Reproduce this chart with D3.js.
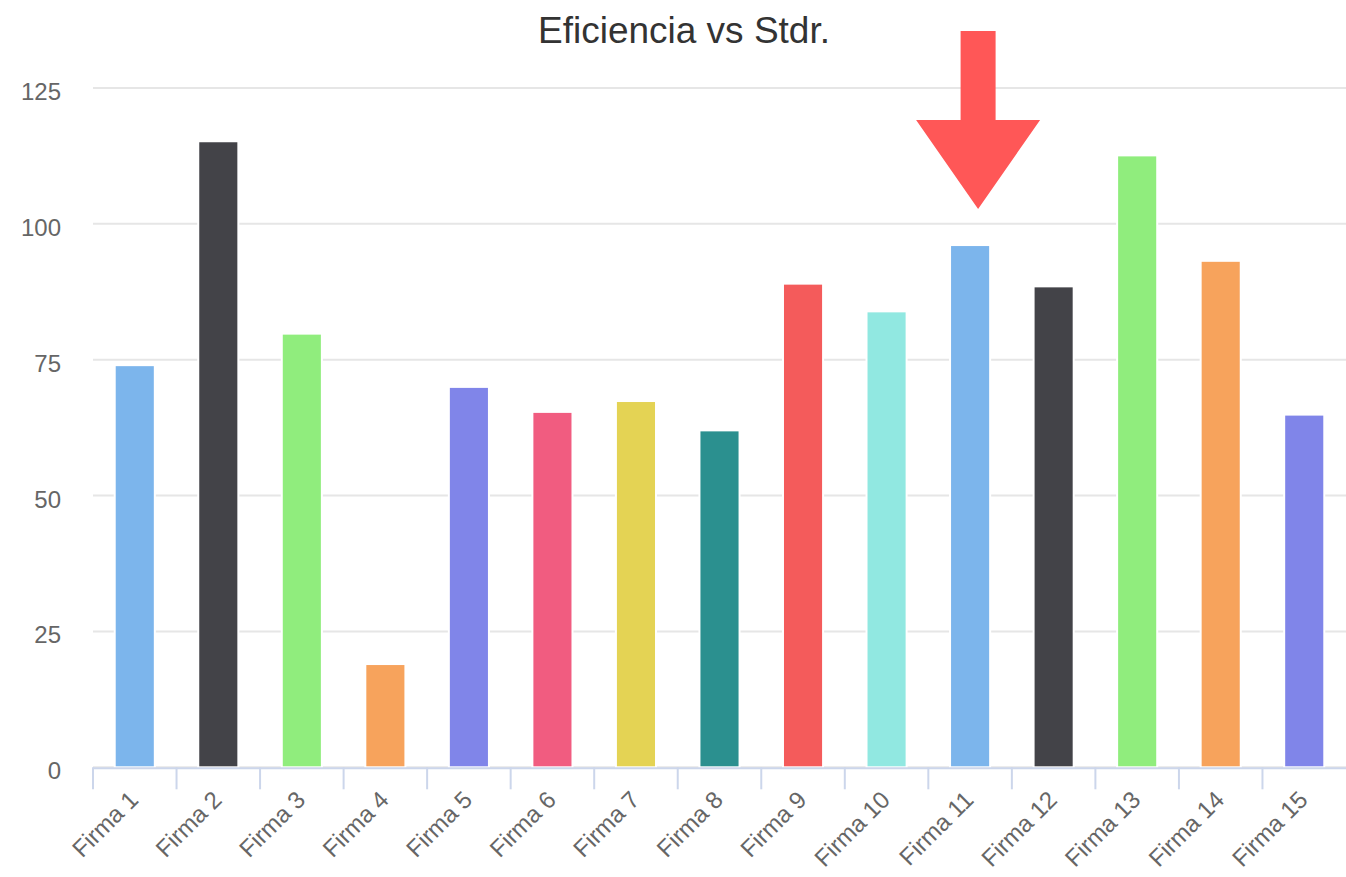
<!DOCTYPE html>
<html>
<head>
<meta charset="utf-8">
<script src="https://cdn.jsdelivr.net/npm/d3@7/dist/d3.min.js"></script>
<style>
  html, body { margin: 0; padding: 0; background: #ffffff; }
  svg { display: block; font-family: "Liberation Sans", Arial, sans-serif; }
</style>
</head>
<body>
<svg id="chart" width="1346" height="877"></svg>
<script>
// Categories, values and palette for the efficiency chart
const categories = ["Firma 1", "Firma 2", "Firma 3", "Firma 4", "Firma 5", "Firma 6", "Firma 7", "Firma 8",
                    "Firma 9", "Firma 10", "Firma 11", "Firma 12", "Firma 13", "Firma 14", "Firma 15"];
const values = [74, 115.2, 79.8, 19, 70, 65.4, 67.4, 62, 89, 83.9, 96.1, 88.5, 112.6, 93.2, 64.9];
const colors = ["#7cb5ec", "#434348", "#90ed7d", "#f7a35c", "#8085e9", "#f15c80", "#e4d354", "#2b908f",
                "#f45b5b", "#91e8e1", "#7cb5ec", "#434348", "#90ed7d", "#f7a35c", "#8085e9"];
const yTicks = [0, 25, 50, 75, 100, 125];
const titleText = "Eficiencia vs Stdr.";
const highlighted = "Firma 11";

const svg = d3.select("#chart");
const plotLeft = 93, plotRight = 1346, plotTop = 88, plotBottom = 767.3;

const x = d3.scaleBand().domain(categories).range([plotLeft, plotRight]).padding(0);
const y = d3.scaleLinear().domain([0, 125]).range([plotBottom, plotTop]);

// Horizontal gridlines
svg.append("g")
  .selectAll("line")
  .data(yTicks)
  .join("line")
  .attr("x1", plotLeft).attr("x2", plotRight)
  .attr("y1", d => y(d)).attr("y2", d => y(d))
  .attr("stroke", "#e6e6e6")
  .attr("stroke-width", 2);

// Y axis labels
svg.append("g")
  .selectAll("text")
  .data(yTicks)
  .join("text")
  .attr("x", 61)
  .attr("y", d => y(d) + 12)
  .attr("text-anchor", "end")
  .attr("font-size", 24)
  .attr("fill", "#666666")
  .text(d => d);

// Bars
const barW = x.bandwidth() * 0.48;
svg.append("g")
  .selectAll("rect")
  .data(values)
  .join("rect")
  .attr("x", (d, i) => x(categories[i]) + (x.bandwidth() - barW) / 2)
  .attr("y", d => y(d))
  .attr("width", barW)
  .attr("height", d => plotBottom - y(d))
  .attr("fill", (d, i) => colors[i])
  .attr("stroke", "#ffffff")
  .attr("stroke-width", 2);

// X axis line and boundary ticks
const xAxis = svg.append("g");
xAxis.append("line")
  .attr("x1", plotLeft).attr("x2", plotRight)
  .attr("y1", plotBottom + 1).attr("y2", plotBottom + 1)
  .attr("stroke", "#ccd6eb").attr("stroke-width", 2);
xAxis.selectAll("line.tick")
  .data(categories)
  .join("line")
  .attr("class", "tick")
  .attr("x1", d => x(d)).attr("x2", d => x(d))
  .attr("y1", plotBottom).attr("y2", plotBottom + 22)
  .attr("stroke", "#ccd6eb").attr("stroke-width", 2);

// Rotated category labels
xAxis.selectAll("text")
  .data(categories)
  .join("text")
  .attr("transform", d => `translate(${x(d) + x.bandwidth() / 2 - 7},${plotBottom + 22}) rotate(-45)`)
  .attr("text-anchor", "end")
  .attr("dy", "0.7em")
  .attr("font-size", 24)
  .attr("fill", "#666666")
  .text(d => d);

// Title
svg.append("text")
  .attr("x", 684)
  .attr("y", 43)
  .attr("text-anchor", "middle")
  .attr("font-size", 37)
  .attr("fill", "#333333")
  .text(titleText);

// Pointer arrow above the highlighted firm
const ax = x(highlighted) + x.bandwidth() / 2 + 8;
const arrow = d3.path();
arrow.moveTo(ax - 17.5, 31);
arrow.lineTo(ax + 17.5, 31);
arrow.lineTo(ax + 17.5, 120);
arrow.lineTo(ax + 62, 120);
arrow.lineTo(ax, 209);
arrow.lineTo(ax - 62, 120);
arrow.lineTo(ax - 17.5, 120);
arrow.closePath();
svg.append("path").attr("d", arrow.toString()).attr("fill", "#ff5757");
</script>
</body>
</html>
